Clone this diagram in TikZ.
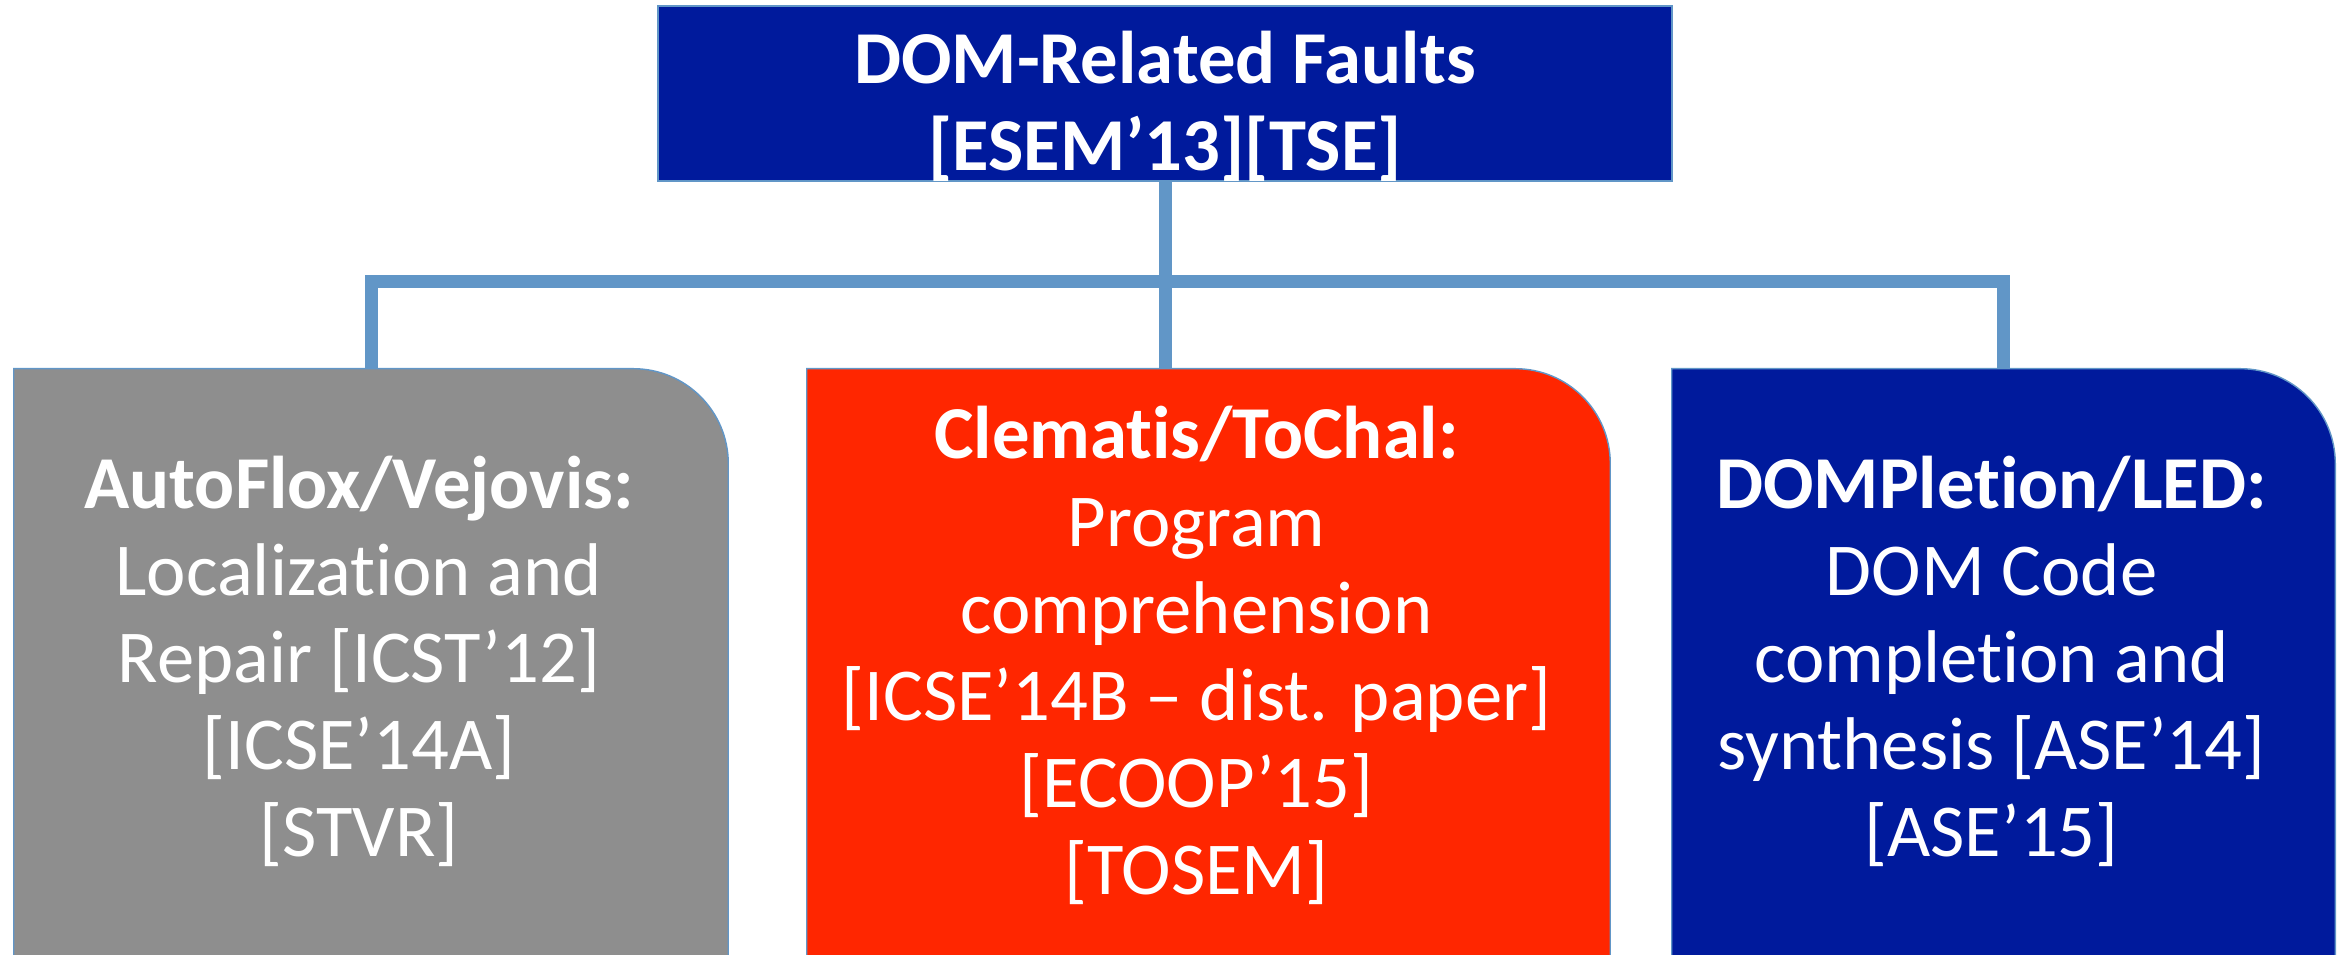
\documentclass[tikz,border=0pt]{standalone}
\usepackage{fontspec}
\setmainfont{Carlito}[Ligatures=NoCommon]
\usetikzlibrary{backgrounds}
\definecolor{faultblue}{RGB}{0,26,156}
\definecolor{toolgray}{RGB}{142,142,142}
\definecolor{toolred}{RGB}{255,38,0}
\definecolor{linkblue}{RGB}{97,150,199}
\tikzset{
  boxtext/.style={text=white, align=center, inner sep=0pt, font=\fontsize{42.5}{49.6}\selectfont},
  titletext/.style={boxtext, font=\fontsize{42.5}{49.6}\selectfont\bfseries},
  topbox/.style={fill=faultblue, draw=linkblue, line width=0.8pt, minimum width=20.28cm, minimum height=3.5cm, inner sep=0pt},
  toolbox/.style={minimum height=11.92cm, inner sep=0pt},
  toolshape/.style={draw=linkblue, line width=0.8pt},
  link/.style={draw=linkblue, line width=0.26cm}
}
\newcommand\toolpath[2]{%
  \path[toolshape, fill=#2] (#1.south west) -- (#1.north west) -- ([xshift=-1.9cm]#1.north east)
    arc[start angle=90, end angle=0, radius=1.9cm] -- (#1.south east) -- cycle;}
\begin{document}
\begin{tikzpicture}[x=0.02cm,y=0.02cm]
\clip (0,0) rectangle (2340,955);
% boxes
\node[topbox] (faults) at (1165,861.5) {};
\node[toolbox, minimum width=14.28cm] (loc) at (371,288) {};
\node[toolbox, minimum width=16.06cm] (clem) at (1208.5,288) {};
\node[toolbox, minimum width=13.26cm] (compl) at (2003.5,288) {};
\begin{scope}[on background layer]
\toolpath{loc}{toolgray}
\toolpath{clem}{toolred}
\toolpath{compl}{faultblue}
\end{scope}
% texts
\node[titletext] (faultstext) at ([yshift=-0.254cm]faults.center) {DOM-Related Faults\\{}[ESEM’13][TSE]};
\node[boxtext] (loctext) at ([xshift=-0.24cm,yshift=0.108cm]loc.center)
  {\bfseries AutoFlox/Vejovis:\\Localization and\\Repair [ICST’12]\\{}[ICSE’14A]\\{}[STVR]};
\node[boxtext] (clemtext) at ([xshift=-0.24cm,yshift=0.226cm]clem.center)
  {\bfseries Clematis/ToChal:\\Program\\comprehension\\{}[ICSE’14B – dist. paper]\\{}[ECOOP’15]\\{}[TOSEM]};
\node[boxtext] (compltext) at ([xshift=-0.24cm,yshift=0.108cm]compl.center)
  {\bfseries DOMPletion/LED:\\DOM Code\\completion and\\synthesis [ASE’14]\\{}[ASE’15]};
% connectors
\coordinate (bus) at (1165,673.5);
\draw[link] (loc.north) |- (bus) -| (compl.north);
\draw[link] (faults.south) -- (faults.south |- clem.north);
\end{tikzpicture}
\end{document}
